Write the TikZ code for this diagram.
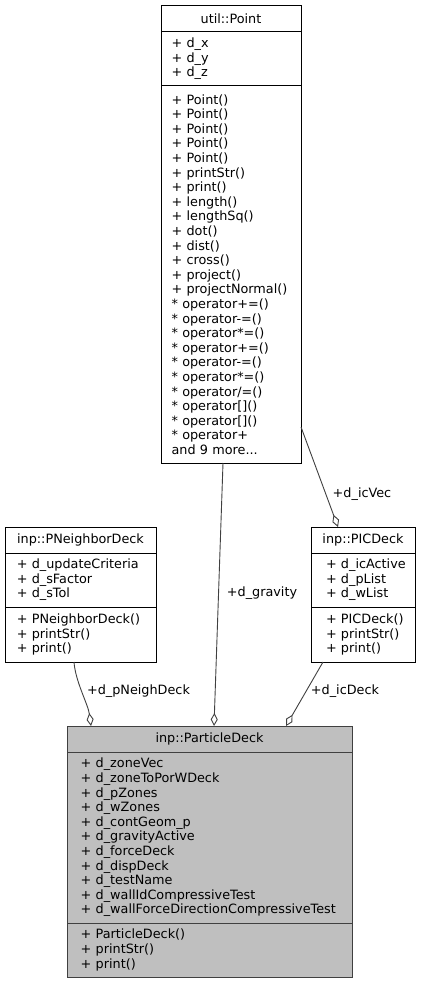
\documentclass[tikz,border=0pt]{standalone}
\usepackage{fontspec}
\setmainfont{DejaVu Sans}
\usetikzlibrary{arrows.meta,positioning}
\definecolor{edgegray}{HTML}{404040}
\definecolor{focusfill}{HTML}{BFBFBF}
\tikzset{
  umlfont/.style={font=\fontsize{12.8}{14.6}\selectfont},
  classtitle/.style={draw=black, line width=1pt, umlfont, minimum width=#1,
    minimum height=26pt, inner sep=0pt, outer sep=0pt},
  classpart/.style 2 args={draw=black, line width=1pt, umlfont, align=left,
    inner xsep=0pt, inner ysep=0pt, outer sep=0pt, text width=#1,
    execute at begin node={\leftskip=#2}},
  focus/.style={fill=focusfill, draw=edgegray},
  member/.style={draw=edgegray, line width=0.9pt,
    {Diamond[open,length=13pt,width=7pt]}-},
  edgelabel/.style={umlfont, inner sep=0pt},
}
\begin{document}
\begin{tikzpicture}[x=1pt,y=-1pt]
    \useasboundingbox (0,0) rectangle (421,984);
    % util::Point
    \node[classtitle=140pt] (pt) at (231,19) {util::Point};
    \node[classpart={140pt}{10.6pt}, minimum height=54pt, below=0pt of pt] (ptA)
        {+ d\_x\\+ d\_y\\+ d\_z};
    \node[classpart={140pt}{10.6pt}, minimum height=377pt, below=0pt of ptA] (ptM)
        {+ Point()\\+ Point()\\+ Point()\\+ Point()\\+ Point()\\+ printStr()\\+ print()\\
         + length()\\+ lengthSq()\\+ dot()\\+ dist()\\+ cross()\\+ project()\\+ projectNormal()\\{}%
         * operator+=()\\{}* operator-=()\\{}* operator*=()\\{}* operator+=()\\{}* operator-=()\\{}%
         * operator*=()\\{}* operator/=()\\{}* operator[]()\\{}* operator[]()\\{}* operator+\\and 9 more...};

    % inp::PNeighborDeck
    \node[classtitle=151pt] (pn) at (80.5,540) {inp::PNeighborDeck};
    \node[classpart={151pt}{11.8pt}, minimum height=54pt, below=0pt of pn] (pnA)
        {+ d\_updateCriteria\\+ d\_sFactor\\+ d\_sTol};
    \node[classpart={151pt}{11.8pt}, minimum height=55pt, below=0pt of pnA] (pnM)
        {+ PNeighborDeck()\\+ printStr()\\+ print()};

    % inp::PICDeck
    \node[classtitle=104pt] (pic) at (363,540) {inp::PICDeck};
    \node[classpart={104pt}{15pt}, minimum height=54pt, below=0pt of pic] (picA)
        {+ d\_icActive\\+ d\_pList\\+ d\_wList};
    \node[classpart={104pt}{15pt}, minimum height=55pt, below=0pt of picA] (picM)
        {+ PICDeck()\\+ printStr()\\+ print()};

    % inp::ParticleDeck
    \node[classtitle=285pt, focus] (pd) at (209.5,739) {inp::ParticleDeck};
    \node[classpart={285pt}{13.7pt}, focus, minimum height=171pt, below=0pt of pd] (pdA)
        {+ d\_zoneVec\\+ d\_zoneToPorWDeck\\+ d\_pZones\\+ d\_wZones\\+ d\_contGeom\_p\\
         + d\_gravityActive\\+ d\_forceDeck\\+ d\_dispDeck\\+ d\_testName\\
         + d\_wallIdCompressiveTest\\+~d\_wallForceDirectionCompressiveTest};
    \node[classpart={285pt}{13.7pt}, focus, minimum height=54pt, below=0pt of pdA] (pdM)
        {+ ParticleDeck()\\+ printStr()\\+ print()};

    % connectors
    \draw[member] ([xshift=4.5pt]pd.north) -- ([xshift=-8pt]ptM.south);
    \draw[member] ([xshift=-118.5pt]pd.north) .. controls +(-3,-22) and +(1.5,20)
        .. ([xshift=-6.5pt]pnM.south);
    \draw[member] ([xshift=76.5pt]pd.north) -- ([xshift=-40pt]picM.south);
    \draw[member] ([xshift=-25pt]pic.north) -- ([yshift=36pt]ptM.south east);

    % labels
    \node[edgelabel] (lgrav) at (262,593) {+d\_gravity};
    \node[edgelabel] (lpn) at (138.5,691) {+d\_pNeighDeck};
    \node[edgelabel] (lic) at (345,691) {+d\_icDeck};
    \node[edgelabel] (lvec) at (362,494) {+d\_icVec};
\end{tikzpicture}
\end{document}
